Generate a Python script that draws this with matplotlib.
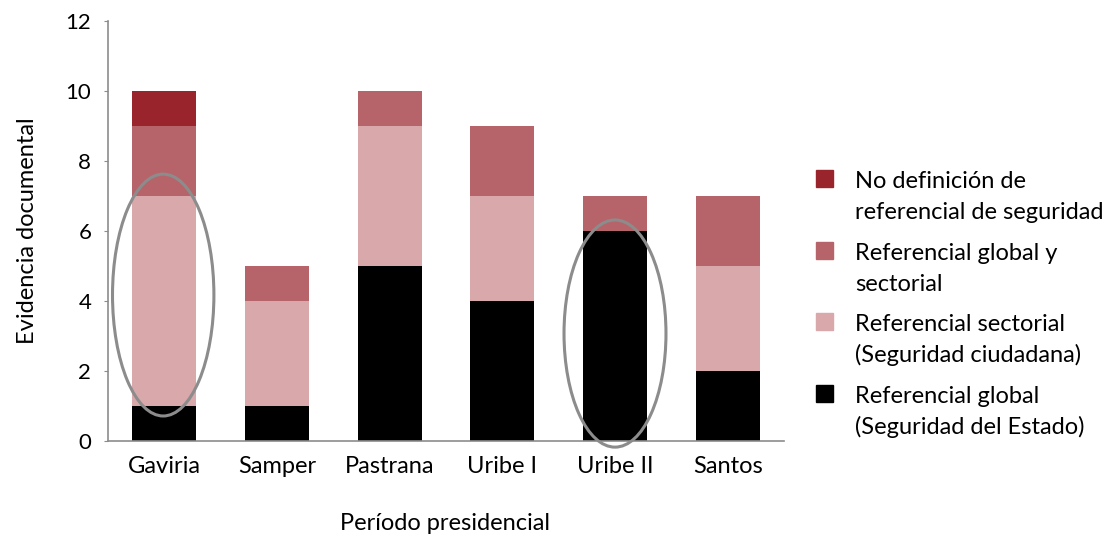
import matplotlib
matplotlib.use("Agg")
import matplotlib.pyplot as plt
from matplotlib.patches import Ellipse, Rectangle
import numpy as np

periods = ["Gaviria", "Samper", "Pastrana", "Uribe I", "Uribe II", "Santos"]
ref_global = [1, 1, 5, 4, 6, 2]
ref_sectorial = [6, 3, 4, 3, 0, 3]
ref_global_sectorial = [2, 1, 1, 2, 1, 2]
no_definicion = [1, 0, 0, 0, 0, 0]

series = [
    ("Referencial global\n(Seguridad del Estado)", ref_global, "#000000"),
    ("Referencial sectorial\n(Seguridad ciudadana)", ref_sectorial, "#D8A8AA"),
    ("Referencial global y\nsectorial", ref_global_sectorial, "#B6646A"),
    ("No definición de\nreferencial de seguridad", no_definicion, "#9A242B"),
]

plt.rcParams["font.family"] = ["Lato", "DejaVu Sans"]

W, H = 1112, 537
fig = plt.figure(figsize=(W / 100, H / 100), dpi=100)
ax = fig.add_axes([108 / W, 1 - 441 / H, 676 / W, 420 / H])

x = np.arange(len(periods))
bottom = np.zeros(len(periods))
for label, vals, color in series:
    vals = np.array(vals, dtype=float)
    ax.bar(x, vals, width=0.57, bottom=bottom, color=color, label=label,
           linewidth=0)
    bottom += vals

# gray ellipses highlighting Gaviria and Uribe II
for cx, cy, w, h in [(-0.01, 4.17, 0.90, 6.91), (4.0, 3.07, 0.905, 6.49)]:
    ax.add_patch(Ellipse((cx, cy), w, h, fill=False, edgecolor="#8C8C8C",
                         linewidth=2.2, zorder=5, clip_on=False))

ax.set_xlim(-0.5, 5.5)
ax.set_ylim(0, 12)
ax.set_yticks(range(0, 13, 2))
ax.set_xticks(x)
ax.set_xticklabels(periods)

for side in ["top", "right"]:
    ax.spines[side].set_visible(False)
for side in ["left", "bottom"]:
    ax.spines[side].set_color("#8C8C8C")
    ax.spines[side].set_linewidth(1.2)

ax.tick_params(axis="y", length=3, color="#8C8C8C", labelsize=16, pad=9)
ax.tick_params(axis="x", length=0, labelsize=17, pad=11)

ax.set_xlabel("Período presidencial", fontsize=17)
ax.set_ylabel("Evidencia documental", fontsize=17)
ax.xaxis.set_label_coords(0.4985, -0.172)
ax.yaxis.set_label_coords(-0.104, 0.5)

# legend: square aligned with the first line of each two-line label
for i, (label, vals, color) in enumerate(series[::-1]):
    base = 188 + i * 71.7
    fig.patches.append(Rectangle((816 / W, 1 - (base - 1) / H), 17 / W, 17 / H,
                                 transform=fig.transFigure, color=color))
    for j, line in enumerate(label.split("\n")):
        fig.text(855 / W, 1 - (base + j * 31) / H, line, fontsize=17,
                 va="baseline", ha="left")

fig.savefig("out.png", dpi=100)
